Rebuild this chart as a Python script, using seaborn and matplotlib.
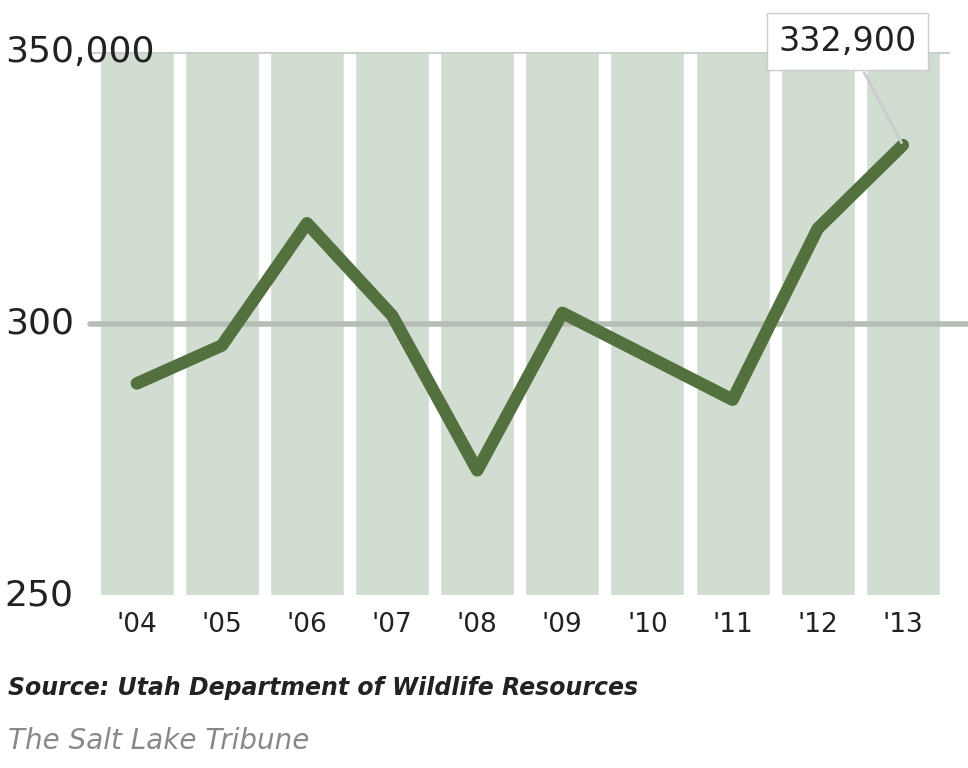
import matplotlib
matplotlib.use("Agg")
import matplotlib.pyplot as plt
import seaborn as sns
import pandas as pd

years = ["'04","'05","'06","'07","'08","'09","'10","'11","'12","'13"]
values = [289, 296, 318.5, 301.5, 273, 302, 294, 286, 317.5, 332.9]
ytick_vals = [250, 300, 350]
ytick_labels = ["250", "300", "350,000"]

sns.set_style("white")
plt.rcParams['font.family'] = ['DejaVu Sans']
fig = plt.figure(figsize=(9.68, 7.68), dpi=100)
ax = fig.add_axes([0.093, 0.225, 0.888, 0.707])
df = pd.DataFrame({"year": years, "value": values, "top": [350]*len(years)})
sns.barplot(data=df, x="year", y="top", color="#d0ddd0", saturation=1, width=0.87, ax=ax)
ax.axhline(300, color="#b5bdb5", lw=4, zorder=2, clip_on=False, xmax=1.03)
ax.axhline(350, color="#c8cfc8", lw=2, zorder=2)
sns.lineplot(data=df, x="year", y="value", color="#53703f", lw=9, ax=ax, zorder=3)
ax.set_ylim(250, 350)
ax.set_xlim(-0.55, 9.55)
ax.set_yticks([])
for s in ax.spines.values():
    s.set_visible(False)
ax.set_xlabel(""); ax.set_ylabel("")
ax.tick_params(axis='x', length=0, labelsize=19, colors="#222222", pad=12)
for v, l in zip(ytick_vals, ytick_labels):
    fig.text(0.005, 0.225 + 0.707*(v-250)/100, l, fontsize=26, color="#222222", va="center", ha="left")
ax.annotate("332,900", xy=(9, 332.9), xytext=(8.35, 352), fontsize=24, color="#222222",
            ha="center", va="center",
            bbox=dict(boxstyle="square,pad=0.35", fc="white", ec="#cccccc"),
            arrowprops=dict(arrowstyle="-", color="#cccccc", lw=2), annotation_clip=False, zorder=5)
fig.text(0.008, 0.095, "Source: Utah Department of Wildlife Resources", fontsize=17,
         style="italic", weight="bold", color="#222222")
fig.text(0.008, 0.025, "The Salt Lake Tribune", fontsize=20, style="italic", color="#888888")
fig.savefig("out.png", dpi=100)
